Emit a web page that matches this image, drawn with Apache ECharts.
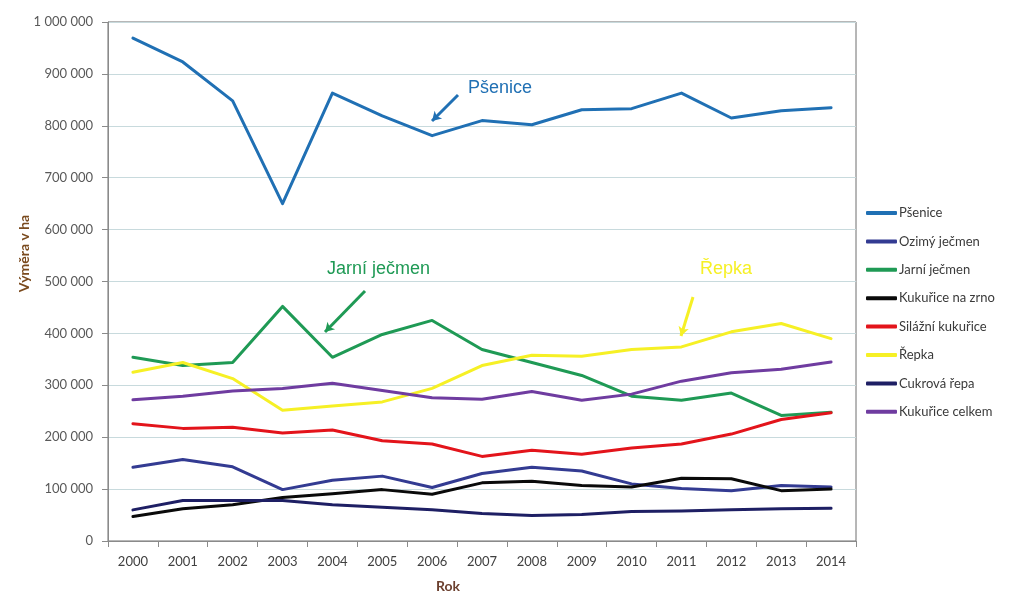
<!DOCTYPE html>
<html>
<head>
<meta charset="utf-8">
<script src="https://cdn.jsdelivr.net/npm/echarts@6/dist/echarts.min.js"></script>
<style>
  html, body { margin: 0; padding: 0; background: #fff; }
  #chart { width: 1011px; height: 592px; }
</style>
</head>
<body>
<div id="chart"></div>
<script>
// Osevní plochy hlavních plodin (ha), 2000–2014
const years = ['2000','2001','2002','2003','2004','2005','2006','2007','2008','2009','2010','2011','2012','2013','2014'];

const psenice        = [969000, 923000, 848000, 650000, 863000, 819000, 781000, 810000, 802000, 831000, 833000, 863000, 815000, 829000, 835000];
const ozimyJecmen    = [142000, 157000, 143000,  99000, 117000, 125000, 103000, 130000, 142000, 135000, 110000, 101000,  97000, 107000, 104000];
const jarniJecmen    = [354000, 338000, 344000, 452000, 354000, 398000, 425000, 369000, 344000, 319000, 279000, 271000, 285000, 242000, 248000];
const kukuriceZrno   = [ 47000,  62000,  70000,  84000,  91000,  99000,  90000, 112000, 115000, 107000, 104000, 121000, 120000,  97000, 100000];
const silazniKukurice= [226000, 217000, 219000, 208000, 214000, 193000, 187000, 163000, 175000, 167000, 179000, 187000, 206000, 234000, 247000];
const repka          = [325000, 344000, 313000, 252000, 260000, 268000, 294000, 338000, 358000, 356000, 369000, 374000, 403000, 419000, 390000];
const cukrovaRepa    = [ 60000,  78000,  78000,  78000,  70000,  65000,  60000,  53000,  49000,  51000,  57000,  58000,  60000,  62000,  63000];
const kukuriceCelkem = [272000, 279000, 289000, 294000, 304000, 290000, 276000, 273000, 288000, 271000, 283000, 308000, 324000, 331000, 345000];

const seriesDefs = [
  { name: 'Pšenice',           data: psenice,         color: '#2070b4' },
  { name: 'Ozimý ječmen',      data: ozimyJecmen,     color: '#333b92' },
  { name: 'Jarní ječmen',      data: jarniJecmen,     color: '#1f9a55' },
  { name: 'Kukuřice na zrno',  data: kukuriceZrno,    color: '#0a0a0a' },
  { name: 'Silážní kukuřice',  data: silazniKukurice, color: '#e3141b' },
  { name: 'Řepka',             data: repka,           color: '#f6f025' },
  { name: 'Cukrová řepa',      data: cukrovaRepa,     color: '#1e1f64' },
  { name: 'Kukuřice celkem',   data: kukuriceCelkem,  color: '#6f3ca0' }
];

// Popisky se šipkami u vybraných plodin
const notes = {
  'Pšenice':      { text: 'Pšenice',      pos: [468, 79],  arrow: [[458, 95], [432, 121]] },
  'Jarní ječmen': { text: 'Jarní ječmen', pos: [327, 260], arrow: [[365, 291], [325, 332]] },
  'Řepka':        { text: 'Řepka',        pos: [700, 260], arrow: [[693, 297], [681, 336]] }
};

const fmt = v => String(v).replace(/\B(?=(\d{3})+(?!\d))/g, ' ');

const chart = echarts.init(document.getElementById('chart'), null, { renderer: 'canvas' });

const series = seriesDefs.map(s => {
  const def = {
    name: s.name,
    type: 'line',
    data: s.data,
    symbol: 'none',
    smooth: false,
    lineStyle: { width: 3, color: s.color, cap: 'round', join: 'round' },
    itemStyle: { color: s.color },
    emphasis: { disabled: true },
    z: s.name === 'Pšenice' ? 5 : 3
  };
  const n = notes[s.name];
  if (n) {
    def.markLine = {
      silent: true,
      symbol: ['none', 'arrow'],
      symbolSize: [8, 9],
      label: { show: false },
      lineStyle: { color: s.color, width: 3, type: 'solid' },
      data: [[{ x: n.arrow[0][0], y: n.arrow[0][1] }, { x: n.arrow[1][0], y: n.arrow[1][1] }]]
    };
  }
  return def;
});

const option = {
  backgroundColor: '#ffffff',
  animation: false,
  textStyle: { fontFamily: 'Lato, "Open Sans", sans-serif' },
  grid: {
    left: 108, right: 155, top: 22, bottom: 51,
    outerBoundsMode: 'none',
    containLabel: false,
    show: true, borderColor: '#6e6e6e', borderWidth: 1, backgroundColor: 'transparent'
  },
  legend: {
    orient: 'vertical',
    left: 866, top: 206.5,
    padding: 0,
    icon: 'roundRect',
    itemWidth: 31, itemHeight: 4, itemGap: 15.4,
    textStyle: { fontSize: 13, color: '#3a3a3a', padding: [0, 0, 0, -3], fontFamily: 'Lato, sans-serif' },
    data: seriesDefs.map(s => s.name)
  },
  xAxis: {
    type: 'category',
    data: years,
    boundaryGap: true,
    name: 'Rok',
    nameLocation: 'middle',
    nameGap: 38,
    nameMoveOverlap: false,
    nameTextStyle: { fontSize: 14, fontWeight: 'bold', color: '#6b3f2e', padding: [0, 68, 0, 0] },
    axisLine: { lineStyle: { color: '#8a8a8a', width: 1 } },
    axisTick: { show: true, length: 6, lineStyle: { color: '#8a8a8a' } },
    axisLabel: { fontSize: 13, color: '#404040', margin: 14 },
    splitLine: { show: false }
  },
  yAxis: {
    type: 'value',
    min: 0, max: 1000000, interval: 100000,
    name: 'Výměra v ha',
    nameLocation: 'middle',
    nameGap: 77,
    nameRotate: 90,
    nameMoveOverlap: false,
    nameTextStyle: { fontSize: 14, fontWeight: 'bold', color: '#7a4a1e', padding: [0, 0, 0, 56] },
    axisLine: { show: true, lineStyle: { color: '#8a8a8a', width: 1 } },
    axisTick: { show: true, inside: false, length: 6, lineStyle: { color: '#8a8a8a' } },
    axisLabel: { fontSize: 13, color: '#595959', margin: 15, formatter: v => fmt(v) },
    splitLine: { show: true, lineStyle: { color: '#c8dadd', width: 1 } }
  },
  graphic: Object.keys(notes).map(k => {
    const n = notes[k];
    const col = seriesDefs.find(s => s.name === k).color;
    return {
      type: 'text',
      left: n.pos[0], top: n.pos[1],
      z: 10,
      style: { text: n.text, fill: col, font: '18px "Liberation Sans", Arial, sans-serif' }
    };
  }),
  series: series
};

chart.setOption(option);
</script>
</body>
</html>
